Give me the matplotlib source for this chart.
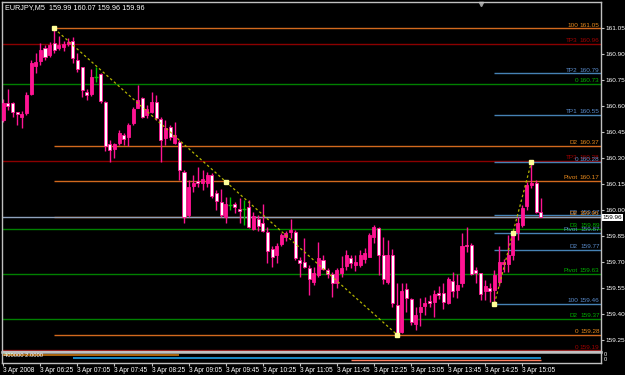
import numpy as np
import matplotlib.pyplot as plt
import matplotlib.transforms as mtransforms

plt.rcParams['font.family'] = ['Liberation Sans Narrow', 'Liberation Sans', 'DejaVu Sans']

# EURJPY M5 bars (open, high, low, close)
o = [160.52, 160.62, 160.62, 160.567, 160.54, 160.56, 160.67, 160.833, 160.862, 160.937,
     160.897, 160.966, 160.937, 160.943, 160.96, 160.98, 160.868, 160.83, 160.683, 160.672,
     160.77, 160.787, 160.625, 160.382, 160.353, 160.388, 160.434, 160.423, 160.503, 160.59,
     160.648, 160.55, 160.568, 160.625, 160.527, 160.417, 160.48, 160.388, 160.394, 160.22,
     159.972, 160.14, 160.168, 160.157, 160.157, 160.203, 160.099, 160.047, 159.96, 160.03,
     160.036, 160.007, 160.007, 160.018, 159.89, 159.95, 159.925, 159.874, 159.776, 159.741,
     159.805, 159.845, 159.874, 159.874, 159.712, 159.70, 159.666, 159.585, 159.625, 159.712,
     159.654, 159.63, 159.579, 159.637, 159.677, 159.724, 159.683, 159.683, 159.718, 159.73,
     159.845, 159.897, 159.741, 159.585, 159.741, 159.452, 159.295, 159.545, 159.487, 159.342,
     159.41, 159.446, 159.475, 159.47, 159.52, 159.52, 159.464, 159.59, 159.54, 159.58,
     159.80, 159.80, 159.654, 159.637, 159.533, 159.55, 159.54, 159.585, 159.69, 159.69,
     159.741, 159.874, 159.914, 160.024, 160.145, 160.157, 159.99]
h = [160.64, 160.70, 160.625, 160.57, 160.573, 160.683, 160.87, 160.91, 160.966, 160.955,
     160.972, 161.05, 161.007, 160.98, 160.995, 161.0, 160.91, 160.83, 160.70, 160.816,
     160.83, 160.793, 160.63, 160.405, 160.388, 160.463, 160.446, 160.503, 160.597, 160.724,
     160.654, 160.608, 160.683, 160.666, 160.538, 160.52, 160.492, 160.51, 160.405, 160.232,
     160.174, 160.203, 160.25, 160.232, 160.22, 160.214, 160.116, 160.12, 160.076, 160.076,
     160.047, 160.07, 160.059, 160.059, 159.99, 159.972, 160.036, 159.903, 159.793, 159.81,
     159.868, 159.88, 159.95, 159.885, 159.73, 159.84, 159.683, 159.672, 159.816, 159.741,
     159.666, 159.643, 159.666, 159.735, 159.77, 159.741, 159.741, 159.77, 159.78, 159.868,
     159.914, 159.903, 159.845, 159.83, 159.776, 159.58, 159.58, 159.58, 159.49, 159.44,
     159.49, 159.50, 159.51, 159.54, 159.56, 159.58, 159.614, 159.643, 159.63, 159.868,
     159.90, 159.81, 159.672, 159.637, 159.596, 159.58, 159.654, 159.79, 159.72, 159.856,
     159.874, 159.96, 160.03, 160.16, 160.28, 160.174, 160.07]
l = [160.51, 160.58, 160.54, 160.49, 160.475, 160.55, 160.665, 160.793, 160.84, 160.868,
     160.885, 160.91, 160.926, 160.92, 160.95, 160.85, 160.80, 160.655, 160.637, 160.66,
     160.74, 160.62, 160.34, 160.278, 160.30, 160.376, 160.376, 160.37, 160.49, 160.59,
     160.532, 160.532, 160.56, 160.52, 160.278, 160.376, 160.405, 160.38, 160.174, 159.925,
     159.96, 160.105, 160.134, 160.116, 160.134, 160.07, 160.0, 159.96, 159.925, 160.0,
     159.983, 159.925, 159.914, 159.897, 159.885, 159.88, 159.874, 159.695, 159.67, 159.695,
     159.793, 159.82, 159.84, 159.712, 159.614, 159.666, 159.51, 159.568, 159.614, 159.654,
     159.608, 159.50, 159.55, 159.614, 159.654, 159.666, 159.65, 159.67, 159.695, 159.73,
     159.81, 159.625, 159.574, 159.574, 159.44, 159.28, 159.29, 159.41, 159.336, 159.307,
     159.33, 159.394, 159.44, 159.38, 159.487, 159.43, 159.458, 159.50, 159.49, 159.556,
     159.76, 159.625, 159.58, 159.48, 159.48, 159.47, 159.46, 159.56, 159.644, 159.644,
     159.712, 159.83, 159.90, 160.0, 160.13, 159.985, 159.96]
c = [160.62, 160.60, 160.57, 160.555, 160.556, 160.666, 160.85, 160.856, 160.926, 160.885,
     160.955, 160.926, 160.955, 160.96, 160.97, 160.88, 160.816, 160.695, 160.666, 160.77,
     160.77, 160.63, 160.37, 160.348, 160.382, 160.446, 160.41, 160.492, 160.585, 160.637,
     160.54, 160.585, 160.625, 160.532, 160.405, 160.475, 160.423, 160.434, 160.232, 159.96,
     160.134, 160.157, 160.157, 160.18, 160.203, 160.082, 160.053, 159.972, 160.036, 160.03,
     160.018, 159.995, 160.007, 159.903, 159.966, 159.908, 159.88, 159.764, 159.73, 159.793,
     159.856, 159.868, 159.885, 159.724, 159.695, 159.672, 159.602, 159.637, 159.724, 159.66,
     159.63, 159.579, 159.654, 159.666, 159.741, 159.695, 159.70, 159.741, 159.753, 159.856,
     159.903, 159.741, 159.60, 159.741, 159.464, 159.29, 159.53, 159.49, 159.353, 159.394,
     159.44, 159.464, 159.464, 159.516, 159.51, 159.47, 159.60, 159.53, 159.568, 159.793,
     159.793, 159.63, 159.637, 159.516, 159.56, 159.533, 159.625, 159.70, 159.70, 159.741,
     159.862, 159.925, 160.01, 160.145, 160.157, 159.99, 159.96]
doji_bars = [20, 49, 52]

tick_bars = list(range(0, 113, 8))
tick_labels = ["3 Apr 2008", "3 Apr 06:25", "3 Apr 07:05", "3 Apr 07:45", "3 Apr 08:25",
               "3 Apr 09:05", "3 Apr 09:45", "3 Apr 10:25", "3 Apr 11:05", "3 Apr 11:45",
               "3 Apr 12:25", "3 Apr 13:05", "3 Apr 13:45", "3 Apr 14:25", "3 Apr 15:05"]

# fibo / pivot levels drawn on the chart
level_names = ["100", "TP3", "TP2", "0", "TP1", "D2", "TP3", "0", "Pivot", "D2", "D2",
               "D3", "Pivot", "D2", "Pivot", "100", "D2", "0", "0"]
level_values = [161.05, 160.96, 160.79, 160.73, 160.55, 160.37, 160.284, 160.276, 160.17,
                159.97, 159.96, 159.89, 159.87, 159.77, 159.63, 159.46, 159.37, 159.28, 159.19]
level_group = ["o", "r", "b", "g", "b", "o", "r", "b", "o", "b", "o",
               "g", "b", "b", "g", "b", "g", "o", "r"]

# swing lines (bar, price)
swing1_bars = [11, 85]
swing1_prices = [161.05, 159.28]
swing2_bars = [106, 114]
swing2_prices = [159.46, 160.28]

pink = '#ff1493'
grid_gray = '#c0c0c0'
line_col = {"o": '#d2691e', "r": '#8b0000', "g": '#008000', "b": '#4682b4'}
text_col = {"o": '#e8891c', "r": '#a00000', "g": '#00b000', "b": '#5a8ccc'}
start_bar = {"o": 11, "r": -1, "g": -1, "b": 106}

fig = plt.figure(figsize=(6.25, 3.75), dpi=100, facecolor='black')
ax = fig.add_axes([2/625, 1 - 351/375, 599/625, 349/375])
ax.set_facecolor('black')
xmin, xmax = -0.28, 129.0
ax.set_xlim(xmin, xmax)
ax.set_ylim(159.186, 161.203)

# levels
trans = mtransforms.blended_transform_factory(ax.transAxes, ax.transData)
for name, val, g in zip(level_names, level_values, level_group):
    x0 = xmin if start_bar[g] < 0 else start_bar[g]
    ax.hlines(val, x0, xmax, colors=line_col[g], lw=1, zorder=1)
    ax.text(0.9616, val + 0.004, name, transform=trans, ha='right', va='bottom',
            fontsize=4.6, color=text_col[g], zorder=5)
    ax.text(0.9975, val + 0.004, f"{val:.2f}", transform=trans, ha='right', va='bottom',
            fontsize=4.6, color=text_col[g], zorder=5)

# bid line
ax.axhline(c[-1], color='#8ea2bd', lw=1, zorder=1)

# candles
for i in range(len(o)):
    if i in doji_bars:
        ax.vlines(i, l[i], h[i], colors='#00c000', lw=1, zorder=3)
        ax.hlines(o[i], i - 0.4, i + 0.4, colors='#00c000', lw=1, zorder=3)
        continue
    ax.vlines(i, l[i], h[i], colors=pink, lw=1, zorder=2)
    bottom = min(o[i], c[i])
    height = max(abs(c[i] - o[i]), 0.004)
    face = pink if c[i] >= o[i] else 'white'
    ax.bar(i, height, bottom=bottom, width=0.66, color=face, edgecolor=pink,
           linewidth=0.6, zorder=3)

# swing lines with their markers
for bx, py in [(swing1_bars, swing1_prices), (swing2_bars, swing2_prices)]:
    ax.plot(bx, py, color='#b4b400', ls=(0, (2, 2)), lw=0.9, zorder=4)
    mx = [bx[0], (bx[0] + bx[1]) / 2, bx[1]]
    my = [py[0], (py[0] + py[1]) / 2, py[1]]
    ax.plot(mx, my, ls='none', marker='s', ms=2.2, color='#ffff99', zorder=6)

# axes look
for s in ax.spines.values():
    s.set_color(grid_gray)
    s.set_linewidth(1)
ax.yaxis.tick_right()
ax.set_yticks(np.arange(159.25, 161.06, 0.15))
ax.yaxis.set_major_formatter(plt.FormatStrFormatter('%.2f'))
ax.tick_params(axis='y', colors=grid_gray, labelcolor='white', labelsize=4.6, length=2, pad=1)
ax.set_xticks([])

ax.text(1.003, c[-1], f"{c[-1]:.2f}", transform=trans, ha='left', va='center',
        fontsize=4.6, color='black', zorder=7, clip_on=False,
        bbox=dict(facecolor='white', edgecolor='none', pad=0.7))
ax.text(0.005, 0.993, f"EURJPY,M5  {o[-1]:.2f} {h[-1]:.2f} {l[-1]:.2f} {c[-1]:.2f}",
        transform=ax.transAxes, ha='left', va='top', fontsize=5.2, color='white')
ax.plot([0.8], [0.994], transform=ax.transAxes, marker='v', ms=3, color='#a0a0a0',
        clip_on=False)

# indicator sub-window
sub = fig.add_axes([2/625, 1 - 363/375, 599/625, 11/375])
sub.set_facecolor('black')
sub.set_xlim(xmin, xmax)
sub.set_ylim(0, 1)
sub.hlines(0.88, 0, 2, colors='#30c030', lw=1)
sub.hlines(0.70, 0, 38, colors='#c87810', lw=1.2)
sub.hlines(0.45, 15, 116, colors='#1ea0e6', lw=1.2)
sub.hlines(0.27, 75, 116, colors='#ff7f60', lw=1)
sub.text(0.004, 0.95, "400000 2.0000", transform=sub.transAxes, ha='left', va='top',
         fontsize=4.2, color='white')
for s in sub.spines.values():
    s.set_color(grid_gray)
    s.set_linewidth(1)
sub.spines['top'].set_linewidth(1.8)
sub.set_yticks([])
sub.text(1.004, 0.75, "0", transform=sub.transAxes, fontsize=4, color='white', va='center')
sub.text(1.004, 0.3, "0", transform=sub.transAxes, fontsize=4, color='white', va='center')
sub.set_xticks(tick_bars)
sub.set_xticklabels(tick_labels, ha='left')
sub.tick_params(axis='x', colors=grid_gray, labelcolor='white', labelsize=4.7, length=2, pad=1)

fig.savefig('out.png', dpi=100, facecolor='black')
